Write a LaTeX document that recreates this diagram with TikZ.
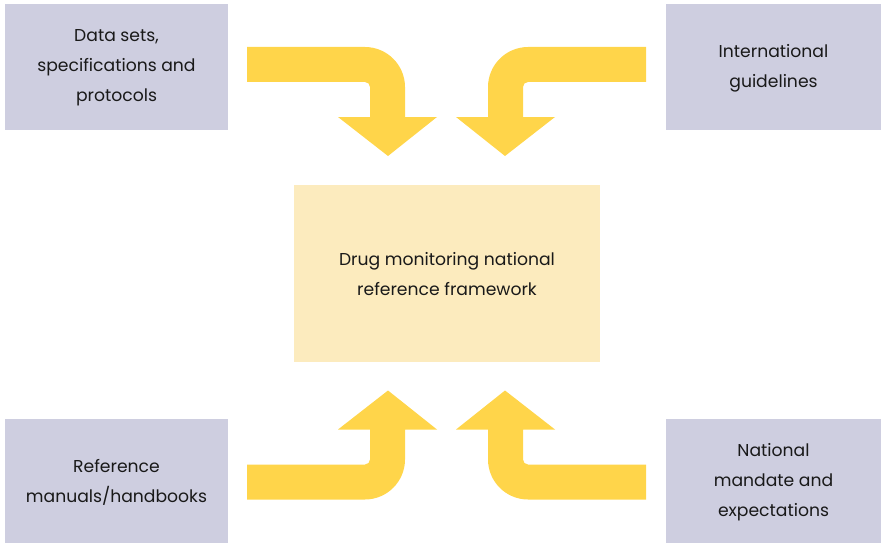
\documentclass[tikz,border=0pt]{standalone}
\usepackage{fontspec}
\setmainfont{Poppins}
\definecolor{boxblue}{HTML}{CECEE0}
\definecolor{arrowyel}{HTML}{FFD54A}
\definecolor{centeryel}{HTML}{FCEBBE}
\tikzset{
  sidebox/.style={fill=boxblue, draw=none, inner sep=0pt},
  centerbox/.style={fill=centeryel, draw=none, inner sep=0pt},
  lbl/.style={align=center, font=\fontsize{17.2}{29.8}\selectfont, text=black!90},
  bentarrow/.style={fill=arrowyel, draw=none}
}
\newcommand{\bentarrowpath}{%
  \fill[bentarrow] (247,47) -- (365,47) .. controls (387,47) and (405,65) .. (405,87)
    -- (405,117) -- (437,117) -- (388,156) -- (338,117) -- (370,117) -- (370,87)
    .. controls (370,84.2) and (367.8,82) .. (365,82) -- (247,82) -- cycle;}
\begin{document}
\begin{tikzpicture}[x=1pt,y=-1pt]
\useasboundingbox (0,0) rectangle (881,543);
% boxes
\fill[sidebox] (5,4) rectangle (228,130);
\fill[sidebox] (666,4) rectangle (881,130);
\fill[sidebox] (5,419) rectangle (228,543);
\fill[sidebox] (666,419) rectangle (881,543);
\fill[centerbox] (294,185) rectangle (600,362);
% labels
\node[lbl] (ds) at (116.5,68) {Data sets,\\specifications and\\protocols};
\node[lbl] (ig) at (773.5,68) {International\\guidelines};
\node[lbl] (rm) at (116.5,482) {Reference\\manuals/handbooks};
\node[lbl] (nm) at (773.5,482) {National\\mandate and\\expectations};
\node[lbl] (dm) at (447,274) {Drug monitoring national\\reference framework};
% arrows
\bentarrowpath
\begin{scope}[shift={(893,0)}, xscale=-1]\bentarrowpath\end{scope}
\begin{scope}[shift={(0,546.5)}, yscale=-1]\bentarrowpath\end{scope}
\begin{scope}[shift={(893,546.5)}, xscale=-1, yscale=-1]\bentarrowpath\end{scope}
\end{tikzpicture}
\end{document}
